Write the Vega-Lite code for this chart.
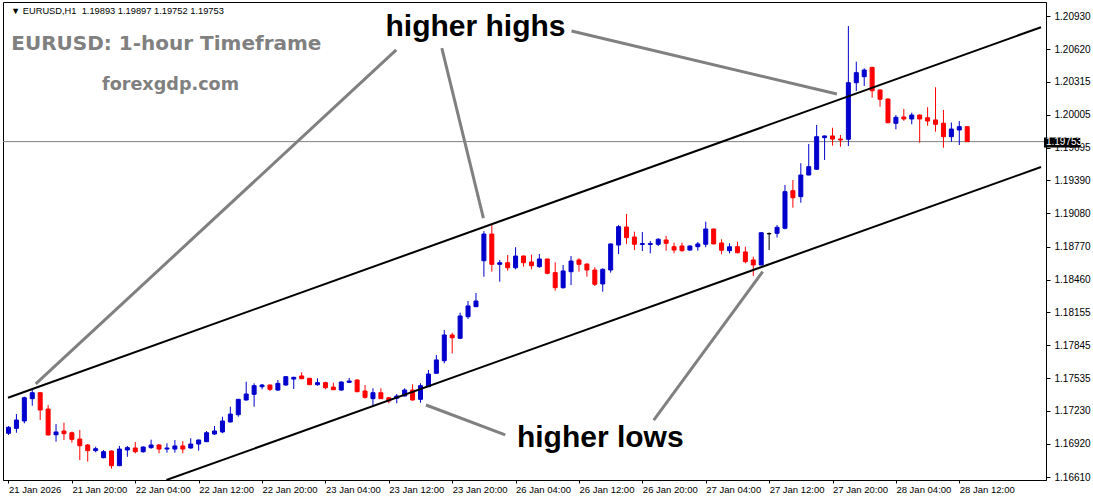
{
  "$schema": "https://vega.github.io/schema/vega-lite/v6.json",
  "width": 1043,
  "height": 478,
  "autosize": {"type": "none"},
  "padding": {"left": 3, "top": 2, "right": 47, "bottom": 21},
  "background": "white",
  "config": {"view": {"stroke": "black", "strokeWidth": 1}},
  "resolve": {"axis": {"x": "independent", "y": "independent"}},
  "datasets": {
    "candles": [
      {"i":0,"o":1.17020,"h":1.17088,"l":1.17004,"c":1.17076},
      {"i":1,"o":1.17066,"h":1.17200,"l":1.17025,"c":1.17144},
      {"i":2,"o":1.17135,"h":1.17363,"l":1.17113,"c":1.17353},
      {"i":3,"o":1.17344,"h":1.17425,"l":1.17278,"c":1.17400},
      {"i":4,"o":1.17400,"h":1.17405,"l":1.17144,"c":1.17238},
      {"i":5,"o":1.17247,"h":1.17285,"l":1.16997,"c":1.17004},
      {"i":6,"o":1.17006,"h":1.17107,"l":1.16941,"c":1.17032},
      {"i":7,"o":1.17041,"h":1.17119,"l":1.16957,"c":1.17016},
      {"i":8,"o":1.17025,"h":1.17035,"l":1.16932,"c":1.16963},
      {"i":9,"o":1.16966,"h":1.17051,"l":1.16769,"c":1.16903},
      {"i":10,"o":1.16910,"h":1.16919,"l":1.16754,"c":1.16857},
      {"i":11,"o":1.16857,"h":1.16894,"l":1.16842,"c":1.16875},
      {"i":12,"o":1.16791,"h":1.16863,"l":1.16785,"c":1.16847},
      {"i":13,"o":1.16854,"h":1.16858,"l":1.16688,"c":1.16716},
      {"i":14,"o":1.16716,"h":1.16901,"l":1.16712,"c":1.16872},
      {"i":15,"o":1.16863,"h":1.16901,"l":1.16800,"c":1.16885},
      {"i":16,"o":1.16882,"h":1.16938,"l":1.16832,"c":1.16847},
      {"i":17,"o":1.16847,"h":1.16898,"l":1.16838,"c":1.16891},
      {"i":18,"o":1.16885,"h":1.16960,"l":1.16875,"c":1.16910},
      {"i":19,"o":1.16910,"h":1.16919,"l":1.16832,"c":1.16872},
      {"i":20,"o":1.16872,"h":1.16926,"l":1.16838,"c":1.16882},
      {"i":21,"o":1.16872,"h":1.16957,"l":1.16838,"c":1.16901},
      {"i":22,"o":1.16901,"h":1.16947,"l":1.16832,"c":1.16872},
      {"i":23,"o":1.16882,"h":1.16973,"l":1.16875,"c":1.16919},
      {"i":24,"o":1.16919,"h":1.16960,"l":1.16857,"c":1.16957},
      {"i":25,"o":1.16941,"h":1.17041,"l":1.16938,"c":1.17025},
      {"i":26,"o":1.17013,"h":1.17088,"l":1.17004,"c":1.17041},
      {"i":27,"o":1.17032,"h":1.17175,"l":1.17020,"c":1.17135},
      {"i":28,"o":1.17126,"h":1.17269,"l":1.17120,"c":1.17200},
      {"i":29,"o":1.17194,"h":1.17342,"l":1.17175,"c":1.17338},
      {"i":30,"o":1.17332,"h":1.17503,"l":1.17325,"c":1.17388},
      {"i":31,"o":1.17385,"h":1.17488,"l":1.17269,"c":1.17466},
      {"i":32,"o":1.17456,"h":1.17482,"l":1.17432,"c":1.17472},
      {"i":33,"o":1.17472,"h":1.17476,"l":1.17416,"c":1.17432},
      {"i":34,"o":1.17425,"h":1.17519,"l":1.17416,"c":1.17488},
      {"i":35,"o":1.17472,"h":1.17554,"l":1.17466,"c":1.17550},
      {"i":36,"o":1.17528,"h":1.17550,"l":1.17435,"c":1.17544},
      {"i":37,"o":1.17557,"h":1.17591,"l":1.17528,"c":1.17531},
      {"i":38,"o":1.17535,"h":1.17538,"l":1.17472,"c":1.17475},
      {"i":39,"o":1.17475,"h":1.17535,"l":1.17466,"c":1.17494},
      {"i":40,"o":1.17494,"h":1.17503,"l":1.17432,"c":1.17447},
      {"i":41,"o":1.17453,"h":1.17494,"l":1.17425,"c":1.17428},
      {"i":42,"o":1.17425,"h":1.17507,"l":1.17419,"c":1.17500},
      {"i":43,"o":1.17497,"h":1.17538,"l":1.17494,"c":1.17510},
      {"i":44,"o":1.17519,"h":1.17526,"l":1.17406,"c":1.17409},
      {"i":45,"o":1.17416,"h":1.17472,"l":1.17344,"c":1.17357},
      {"i":46,"o":1.17344,"h":1.17441,"l":1.17275,"c":1.17400},
      {"i":47,"o":1.17400,"h":1.17441,"l":1.17341,"c":1.17344},
      {"i":48,"o":1.17353,"h":1.17357,"l":1.17301,"c":1.17322},
      {"i":49,"o":1.17348,"h":1.17388,"l":1.17301,"c":1.17369},
      {"i":50,"o":1.17369,"h":1.17441,"l":1.17366,"c":1.17425},
      {"i":51,"o":1.17425,"h":1.17479,"l":1.17325,"c":1.17332},
      {"i":52,"o":1.17338,"h":1.17488,"l":1.17306,"c":1.17466},
      {"i":53,"o":1.17456,"h":1.17613,"l":1.17453,"c":1.17575},
      {"i":54,"o":1.17582,"h":1.17753,"l":1.17579,"c":1.17707},
      {"i":55,"o":1.17700,"h":1.17988,"l":1.17676,"c":1.17941},
      {"i":56,"o":1.17941,"h":1.17962,"l":1.17769,"c":1.17915},
      {"i":57,"o":1.17910,"h":1.18150,"l":1.17903,"c":1.18119},
      {"i":58,"o":1.18112,"h":1.18259,"l":1.18091,"c":1.18213},
      {"i":59,"o":1.18206,"h":1.18334,"l":1.18203,"c":1.18259},
      {"i":60,"o":1.18637,"h":1.18915,"l":1.18487,"c":1.18887},
      {"i":61,"o":1.18887,"h":1.18971,"l":1.18534,"c":1.18603},
      {"i":62,"o":1.18603,"h":1.18644,"l":1.18440,"c":1.18618},
      {"i":63,"o":1.18618,"h":1.18690,"l":1.18543,"c":1.18571},
      {"i":64,"o":1.18571,"h":1.18763,"l":1.18556,"c":1.18681},
      {"i":65,"o":1.18681,"h":1.18685,"l":1.18581,"c":1.18618},
      {"i":66,"o":1.18625,"h":1.18693,"l":1.18556,"c":1.18590},
      {"i":67,"o":1.18581,"h":1.18700,"l":1.18571,"c":1.18653},
      {"i":68,"o":1.18653,"h":1.18656,"l":1.18510,"c":1.18519},
      {"i":69,"o":1.18525,"h":1.18622,"l":1.18356,"c":1.18384},
      {"i":70,"o":1.18384,"h":1.18597,"l":1.18375,"c":1.18541},
      {"i":71,"o":1.18534,"h":1.18681,"l":1.18409,"c":1.18634},
      {"i":72,"o":1.18644,"h":1.18660,"l":1.18534,"c":1.18603},
      {"i":73,"o":1.18606,"h":1.18610,"l":1.18487,"c":1.18550},
      {"i":74,"o":1.18550,"h":1.18575,"l":1.18400,"c":1.18416},
      {"i":75,"o":1.18419,"h":1.18566,"l":1.18347,"c":1.18556},
      {"i":76,"o":1.18550,"h":1.18797,"l":1.18525,"c":1.18794},
      {"i":77,"o":1.18784,"h":1.18971,"l":1.18700,"c":1.18956},
      {"i":78,"o":1.18953,"h":1.19075,"l":1.18794,"c":1.18853},
      {"i":79,"o":1.18859,"h":1.18909,"l":1.18737,"c":1.18791},
      {"i":80,"o":1.18789,"h":1.18906,"l":1.18728,"c":1.18798},
      {"i":81,"o":1.18789,"h":1.18822,"l":1.18706,"c":1.18798},
      {"i":82,"o":1.18791,"h":1.18847,"l":1.18775,"c":1.18838},
      {"i":83,"o":1.18831,"h":1.18871,"l":1.18731,"c":1.18800},
      {"i":84,"o":1.18768,"h":1.18806,"l":1.18706,"c":1.18737},
      {"i":85,"o":1.18775,"h":1.18806,"l":1.18721,"c":1.18731},
      {"i":86,"o":1.18737,"h":1.18778,"l":1.18731,"c":1.18775},
      {"i":87,"o":1.18768,"h":1.18812,"l":1.18731,"c":1.18794},
      {"i":88,"o":1.18791,"h":1.19003,"l":1.18763,"c":1.18934},
      {"i":89,"o":1.18934,"h":1.18937,"l":1.18791,"c":1.18794},
      {"i":90,"o":1.18803,"h":1.18838,"l":1.18697,"c":1.18735},
      {"i":91,"o":1.18731,"h":1.18800,"l":1.18706,"c":1.18768},
      {"i":92,"o":1.18768,"h":1.18815,"l":1.18706,"c":1.18712},
      {"i":93,"o":1.18719,"h":1.18768,"l":1.18613,"c":1.18628},
      {"i":94,"o":1.18644,"h":1.18675,"l":1.18494,"c":1.18597},
      {"i":95,"o":1.18597,"h":1.18903,"l":1.18594,"c":1.18899},
      {"i":96,"o":1.18890,"h":1.18902,"l":1.18737,"c":1.18890},
      {"i":97,"o":1.18894,"h":1.18971,"l":1.18854,"c":1.18950},
      {"i":98,"o":1.18941,"h":1.19346,"l":1.18931,"c":1.19284},
      {"i":99,"o":1.19293,"h":1.19393,"l":1.19134,"c":1.19227},
      {"i":100,"o":1.19237,"h":1.19550,"l":1.19180,"c":1.19440},
      {"i":101,"o":1.19440,"h":1.19731,"l":1.19437,"c":1.19518},
      {"i":102,"o":1.19494,"h":1.19909,"l":1.19487,"c":1.19799},
      {"i":103,"o":1.19790,"h":1.19809,"l":1.19581,"c":1.19806},
      {"i":104,"o":1.19806,"h":1.19883,"l":1.19715,"c":1.19777},
      {"i":105,"o":1.19777,"h":1.19815,"l":1.19705,"c":1.19768},
      {"i":106,"o":1.19775,"h":1.20836,"l":1.19712,"c":1.20305},
      {"i":107,"o":1.20305,"h":1.20502,"l":1.20227,"c":1.20399},
      {"i":108,"o":1.20361,"h":1.20440,"l":1.20274,"c":1.20424},
      {"i":109,"o":1.20449,"h":1.20453,"l":1.20165,"c":1.20230},
      {"i":110,"o":1.20237,"h":1.20240,"l":1.20080,"c":1.20150},
      {"i":111,"o":1.20152,"h":1.20159,"l":1.19925,"c":1.19930},
      {"i":112,"o":1.19925,"h":1.20002,"l":1.19868,"c":1.19981},
      {"i":113,"o":1.19984,"h":1.20059,"l":1.19949,"c":1.19965},
      {"i":114,"o":1.19965,"h":1.20024,"l":1.19915,"c":1.20002},
      {"i":115,"o":1.20002,"h":1.20009,"l":1.19743,"c":1.19965},
      {"i":116,"o":1.19977,"h":1.20075,"l":1.19902,"c":1.19946},
      {"i":117,"o":1.19956,"h":1.20262,"l":1.19846,"c":1.19915},
      {"i":118,"o":1.19925,"h":1.20049,"l":1.19696,"c":1.19799},
      {"i":119,"o":1.19799,"h":1.19932,"l":1.19752,"c":1.19871},
      {"i":120,"o":1.19862,"h":1.19946,"l":1.19721,"c":1.19893},
      {"i":121,"o":1.19893,"h":1.19897,"l":1.19752,"c":1.19753}
    ],
    "channel": [
      {"line":"upper","i":-0.0625,"p":1.17353},
      {"line":"upper","i":130.3125,"p":1.20825},
      {"line":"lower","i":19.9375,"p":1.16582},
      {"line":"lower","i":130.3125,"p":1.19515}
    ],
    "arrows": [
      {"id":"a1","i":48.94,"p":1.20612},
      {"id":"a1","i":3.4375,"p":1.17482},
      {"id":"a2","i":54.69,"p":1.20630},
      {"id":"a2","i":59.94,"p":1.19037},
      {"id":"a3","i":71.06,"p":1.20790},
      {"id":"a3","i":104.56,"p":1.20199},
      {"id":"a4","i":52.69,"p":1.17285},
      {"id":"a4","i":62.69,"p":1.17004},
      {"id":"a5","i":81.44,"p":1.17144},
      {"id":"a5","i":95.19,"p":1.18534}
    ],
    "annot": [
      {"t":"higher highs","i":58.94,"p":1.20743},
      {"t":"higher lows","i":74.69,"p":1.16891}
    ],
    "titles": [
      {"t":"EURUSD: 1-hour Timeframe","i":0.35,"p":1.20612,"g":"a"},
      {"t":"forexgdp.com","i":11.8,"p":1.20237,"g":"b"}
    ],
    "header": [
      {"t":"▼ EURUSD,H1 \u00a01.19893 1.19897 1.19752 1.19753","i":0.3125,"p":1.20949}
    ],
    "one": [{}]
  },
  "layer": [
    {
      "data": {"name": "one"},
      "mark": {"type": "rule", "color": "#808080", "strokeWidth": 1},
      "encoding": {
        "y": {"datum": 1.19753, "type": "quantitative", "axis": null, "scale": {"domain": [1.16582, 1.210613], "nice": false, "zero": false}}
      }
    },
    {
      "data": {"name": "candles"},
      "mark": {"type": "rule", "strokeWidth": 1, "clip": true},
      "encoding": {
        "x": {"field": "i", "type": "quantitative", "title": null,
          "scale": {"domain": [-0.0625, 130.3125], "nice": false, "zero": false},
          "axis": {
            "values": [0,8,16,24,32,40,48,56,64,72,80,88,96,104,112,120],
            "labelExpr": "['21 Jan 2026','21 Jan 20:00','22 Jan 04:00','22 Jan 12:00','22 Jan 20:00','23 Jan 04:00','23 Jan 12:00','23 Jan 20:00','26 Jan 04:00','26 Jan 12:00','26 Jan 20:00','27 Jan 04:00','27 Jan 12:00','27 Jan 20:00','28 Jan 04:00','28 Jan 12:00'][round(datum.value/8)]",
            "labelAlign": "left", "labelBaseline": "top", "labelPadding": 1,
            "tickSize": 3, "tickColor": "black", "domainColor": "black",
            "labelColor": "black", "labelFont": "Liberation Sans", "labelFontSize": 9.5,
            "grid": false, "title": null, "labelOverlap": false, "labelFlush": false, "labelBound": false
          }
        },
        "y": {"field": "l", "type": "quantitative", "title": null,
          "scale": {"domain": [1.16582, 1.210613], "nice": false, "zero": false},
          "axis": {
            "orient": "right",
            "values": [1.1661,1.1692,1.1723,1.17535,1.17845,1.18155,1.1846,1.1877,1.1908,1.1939,1.19695,1.20005,1.20315,1.2062,1.2093],
            "format": ".5f", "tickSize": 4, "labelPadding": 4,
            "labelFont": "Liberation Sans", "labelFontSize": 10, "labelColor": "black",
            "tickColor": "black", "domainColor": "black", "grid": false, "title": null,
            "labelOverlap": false, "labelFlush": false, "labelBound": false
          }
        },
        "y2": {"field": "h"},
        "color": {"condition": [{"test": "datum.c > datum.o", "value": "#0000cd"}, {"test": "datum.c < datum.o", "value": "#ff0000"}], "value": "#000000"}
      }
    },
    {
      "data": {"name": "candles"},
      "mark": {"type": "bar", "size": 4, "strokeWidth": 1, "clip": true},
      "encoding": {
        "x": {"field": "i", "type": "quantitative", "axis": null, "scale": {"domain": [-0.0625, 130.3125], "nice": false, "zero": false}},
        "y": {"field": "o", "type": "quantitative", "axis": null, "scale": {"domain": [1.16582, 1.210613], "nice": false, "zero": false}},
        "y2": {"field": "c"},
        "color": {"condition": [{"test": "datum.c > datum.o", "value": "#0000cd"}, {"test": "datum.c < datum.o", "value": "#ff0000"}], "value": "#000000"},
        "stroke": {"condition": [{"test": "datum.c > datum.o", "value": "#0000cd"}, {"test": "datum.c < datum.o", "value": "#ff0000"}], "value": "#000000"}
      }
    },
    {
      "data": {"name": "channel"},
      "mark": {"type": "line", "color": "black", "strokeWidth": 2, "clip": true},
      "encoding": {
        "x": {"field": "i", "type": "quantitative", "axis": null, "scale": {"domain": [-0.0625, 130.3125], "nice": false, "zero": false}},
        "y": {"field": "p", "type": "quantitative", "axis": null, "scale": {"domain": [1.16582, 1.210613], "nice": false, "zero": false}},
        "detail": {"field": "line"}
      }
    },
    {
      "data": {"name": "arrows"},
      "mark": {"type": "line", "color": "#808080", "strokeWidth": 3},
      "encoding": {
        "x": {"field": "i", "type": "quantitative", "axis": null, "scale": {"domain": [-0.0625, 130.3125], "nice": false, "zero": false}},
        "y": {"field": "p", "type": "quantitative", "axis": null, "scale": {"domain": [1.16582, 1.210613], "nice": false, "zero": false}},
        "detail": {"field": "id"}
      }
    },
    {
      "data": {"name": "annot"},
      "mark": {"type": "text", "font": "Liberation Sans", "fontWeight": "bold", "fontSize": 30, "color": "black", "align": "center", "baseline": "alphabetic"},
      "encoding": {
        "x": {"field": "i", "type": "quantitative", "axis": null, "scale": {"domain": [-0.0625, 130.3125], "nice": false, "zero": false}},
        "y": {"field": "p", "type": "quantitative", "axis": null, "scale": {"domain": [1.16582, 1.210613], "nice": false, "zero": false}},
        "text": {"field": "t"}
      }
    },
    {
      "data": {"name": "titles"},
      "transform": [{"filter": "datum.g == 'a'"}],
      "mark": {"type": "text", "font": "DejaVu Sans", "fontWeight": "bold", "fontSize": 20, "color": "#808080", "align": "left", "baseline": "alphabetic"},
      "encoding": {
        "x": {"field": "i", "type": "quantitative", "axis": null, "scale": {"domain": [-0.0625, 130.3125], "nice": false, "zero": false}},
        "y": {"field": "p", "type": "quantitative", "axis": null, "scale": {"domain": [1.16582, 1.210613], "nice": false, "zero": false}},
        "text": {"field": "t"}
      }
    },
    {
      "data": {"name": "titles"},
      "transform": [{"filter": "datum.g == 'b'"}],
      "mark": {"type": "text", "font": "DejaVu Sans", "fontWeight": "bold", "fontSize": 17.6, "color": "#808080", "align": "left", "baseline": "alphabetic"},
      "encoding": {
        "x": {"field": "i", "type": "quantitative", "axis": null, "scale": {"domain": [-0.0625, 130.3125], "nice": false, "zero": false}},
        "y": {"field": "p", "type": "quantitative", "axis": null, "scale": {"domain": [1.16582, 1.210613], "nice": false, "zero": false}},
        "text": {"field": "t"}
      }
    },
    {
      "data": {"name": "header"},
      "mark": {"type": "text", "font": "Liberation Sans", "fontSize": 9.3, "color": "black", "align": "left", "baseline": "alphabetic"},
      "encoding": {
        "x": {"field": "i", "type": "quantitative", "axis": null, "scale": {"domain": [-0.0625, 130.3125], "nice": false, "zero": false}},
        "y": {"field": "p", "type": "quantitative", "axis": null, "scale": {"domain": [1.16582, 1.210613], "nice": false, "zero": false}},
        "text": {"field": "t"}
      }
    },
    {
      "data": {"name": "one"},
      "mark": {"type": "rect", "color": "black"},
      "encoding": {
        "x": {"datum": 130.69, "type": "quantitative", "axis": null, "scale": {"domain": [-0.0625, 130.3125], "nice": false, "zero": false}},
        "x2": {"datum": 135.31},
        "y": {"datum": 1.197915, "type": "quantitative", "axis": null, "scale": {"domain": [1.16582, 1.210613], "nice": false, "zero": false}},
        "y2": {"datum": 1.196978}
      }
    },
    {
      "data": {"name": "one"},
      "mark": {"type": "text", "font": "Liberation Sans", "fontSize": 10, "color": "white", "align": "left", "baseline": "middle"},
      "encoding": {
        "x": {"datum": 130.94, "type": "quantitative", "axis": null, "scale": {"domain": [-0.0625, 130.3125], "nice": false, "zero": false}},
        "y": {"datum": 1.19745, "type": "quantitative", "axis": null, "scale": {"domain": [1.16582, 1.210613], "nice": false, "zero": false}},
        "text": {"value": "1.19753"}
      }
    }
  ]
}
